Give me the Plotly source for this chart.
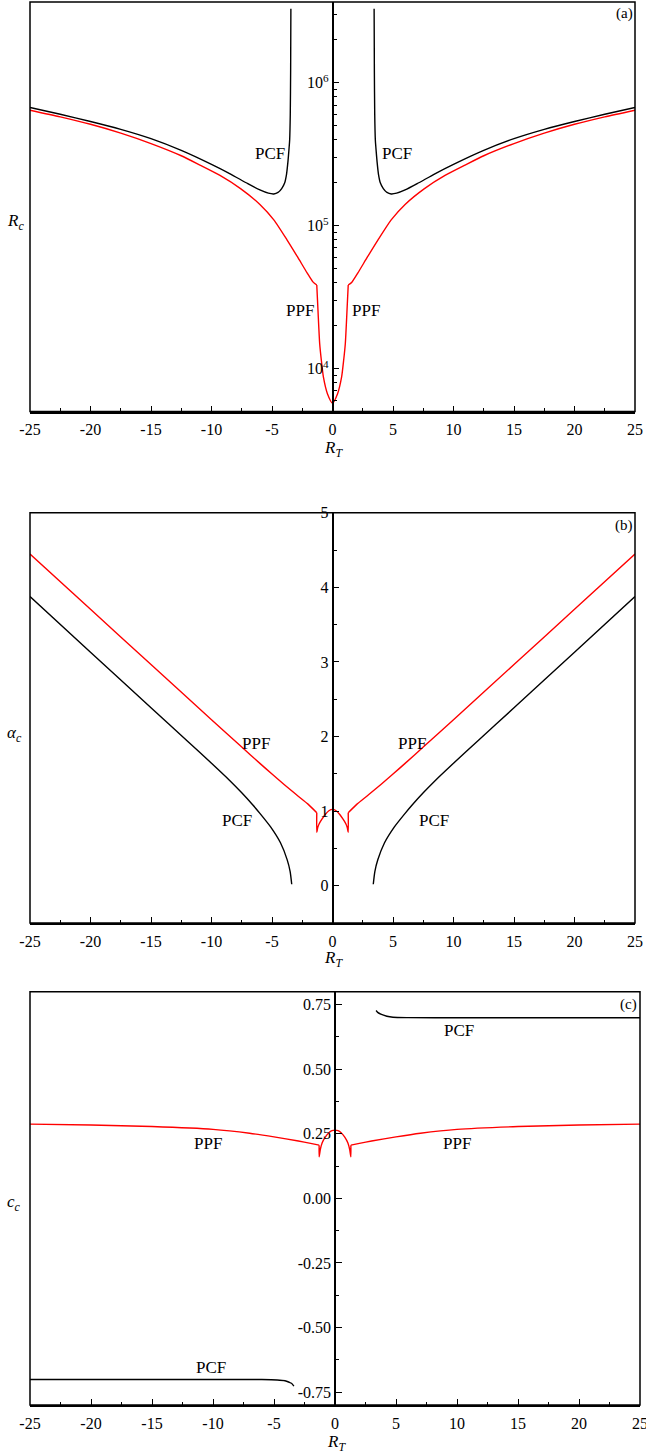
import math
import plotly.graph_objects as go

# ---------------- Panel (a): R_c vs R_T (log y) ----------------
a_ppf_left_rt = [-25, -22.5, -20, -17.5, -15, -12.5, -11, -9.3, -7.6, -6, -4.85, -3.75, -2.9, -2.1, -1.6, -1.3]
a_ppf_left_rc = [6.44e5, 5.78e5, 5.13e5, 4.45e5, 3.76e5, 3.09e5, 2.67e5, 2.25e5, 1.82e5, 1.41e5, 1.10e5, 7.94e4, 6.07e4, 4.68e4, 4.03e4, 3.85e4]
a_ppf_mid_rt = [-1.3, -1.2, -1.06, -0.92, -0.75, -0.42, 0, 0.42, 0.75, 0.92, 1.06, 1.2, 1.3]
a_ppf_mid_rc = [3.85e4, 2.56e4, 1.50e4, 1.14e4, 8710, 6680, 5740, 6680, 8710, 1.14e4, 1.50e4, 2.56e4, 3.85e4]
a_ppf_right_rt = [1.3, 1.6, 2.1, 2.9, 3.75, 4.85, 6, 7.6, 9.3, 11, 12.5, 15, 17.5, 20, 22.5, 25]
a_ppf_right_rc = [3.85e4, 4.03e4, 4.68e4, 6.07e4, 7.94e4, 1.10e5, 1.41e5, 1.82e5, 2.25e5, 2.67e5, 3.09e5, 3.76e5, 4.45e5, 5.13e5, 5.78e5, 6.44e5]

a_pcf_left_rt = [-25, -22.5, -20, -17.5, -15, -12.5, -10, -8.5, -7, -6, -5.3, -4.85, -4.5, -4.2, -3.95, -3.8, -3.68, -3.6, -3.54, -3.49, -3.46, -3.44]
a_pcf_left_rc = [6.73e5, 6.03e5, 5.37e5, 4.73e5, 4.07e5, 3.37e5, 2.69e5, 2.32e5, 1.97e5, 1.78e5, 1.69e5, 1.67e5, 1.71e5, 1.82e5, 2.00e5, 2.29e5, 2.82e5, 3.40e5, 4.00e5, 6.0e5, 1.2e6, 3.3e6]
a_pcf_right_rt = [3.44, 3.46, 3.49, 3.54, 3.6, 3.68, 3.8, 3.95, 4.2, 4.5, 4.85, 5.3, 6, 7, 8.5, 10, 12.5, 15, 17.5, 20, 22.5, 25]
a_pcf_right_rc = [3.3e6, 1.2e6, 6.0e5, 4.00e5, 3.40e5, 2.82e5, 2.29e5, 2.00e5, 1.82e5, 1.71e5, 1.67e5, 1.69e5, 1.78e5, 1.97e5, 2.32e5, 2.69e5, 3.37e5, 4.07e5, 4.73e5, 5.37e5, 6.03e5, 6.73e5]

# ---------------- Panel (b): alpha_c vs R_T ----------------
b_ppf_left_rt = [-25, -20, -15, -10, -7.5, -6, -5, -4, -3, -2, -1.3]
b_ppf_left_al = [4.446, 3.705, 2.965, 2.225, 1.858, 1.64, 1.497, 1.357, 1.222, 1.09, 0.978]
b_ppf_mid_rt = [-1.3, -1.3, -1.22, -1.1, -0.9, -0.6, -0.3, 0, 0.3, 0.6, 0.9, 1.1, 1.22, 1.3, 1.3]
b_ppf_mid_al = [0.978, 0.715, 0.78, 0.83, 0.885, 0.955, 1.005, 1.023, 1.005, 0.955, 0.885, 0.83, 0.78, 0.715, 0.978]
b_ppf_right_rt = [1.3, 2, 3, 4, 5, 6, 7.5, 10, 15, 20, 25]
b_ppf_right_al = [0.978, 1.09, 1.222, 1.357, 1.497, 1.64, 1.858, 2.225, 2.965, 3.705, 4.446]

b_pcf_left_rt = [-25, -20, -15, -12, -10, -8.5, -7.5, -6.6, -6, -5.1, -4.3, -3.75, -3.5, -3.37]
b_pcf_left_al = [3.875, 3.13, 2.385, 1.94, 1.64, 1.41, 1.245, 1.085, 0.97, 0.785, 0.575, 0.35, 0.19, 0.02]
b_pcf_right_rt = [3.37, 3.5, 3.75, 4.3, 5.1, 6, 6.6, 7.5, 8.5, 10, 12, 15, 20, 25]
b_pcf_right_al = [0.02, 0.19, 0.35, 0.575, 0.785, 0.97, 1.085, 1.245, 1.41, 1.64, 1.94, 2.385, 3.13, 3.875]

# ---------------- Panel (c): c_c vs R_T ----------------
c_ppf_left_rt = [-25, -20, -15, -10, -7, -5, -3, -2, -1.3]
c_ppf_left_cc = [0.2875, 0.284, 0.278, 0.267, 0.252, 0.238, 0.222, 0.213, 0.206]
c_ppf_mid_rt = [-1.3, -1.3, -1.2, -1.05, -0.8, -0.5, -0.25, 0, 0.25, 0.5, 0.8, 1.05, 1.2, 1.3, 1.3]
c_ppf_mid_cc = [0.206, 0.161, 0.19, 0.215, 0.237, 0.254, 0.262, 0.264, 0.262, 0.254, 0.237, 0.215, 0.19, 0.161, 0.206]
c_ppf_right_rt = [1.3, 2, 3, 5, 7, 10, 15, 20, 25]
c_ppf_right_cc = [0.206, 0.213, 0.222, 0.238, 0.252, 0.267, 0.278, 0.284, 0.2875]

c_pcf_left_rt = [-25, -10, -6, -4.75, -4.1, -3.75, -3.57, -3.37]
c_pcf_left_cc = [-0.701, -0.701, -0.7015, -0.703, -0.706, -0.712, -0.716, -0.727]
c_pcf_right_rt = [3.37, 3.5, 3.75, 4.25, 4.75, 6, 10, 25]
c_pcf_right_cc = [0.727, 0.72, 0.713, 0.705, 0.701, 0.6995, 0.699, 0.699]

x_ticks = [-25, -20, -15, -10, -5, 0, 5, 10, 15, 20, 25]
x_ticktext = ["-25", "-20", "-15", "-10", "-5", "0", "5", "10", "15", "20", "25"]
a_ticks = [1e4, 1e5, 1e6]
a_ticktext = ["10<sup>4</sup>", "10<sup>5</sup>", "10<sup>6</sup>"]
b_ticks = [0, 1, 2, 3, 4, 5]
b_ticktext = ["0", "1", "2", "3", "4", "5"]
c_ticks = [-0.75, -0.5, -0.25, 0.0, 0.25, 0.5, 0.75]
c_ticktext = ["-0.75", "-0.50", "-0.25", "0.00", "0.25", "0.50", "0.75"]

W, H = 646, 1455
FONT = "Liberation Serif, Times New Roman, serif"
RED = "#ff0000"
BLACK = "#000000"

fig = go.Figure()


def add(xs, ys, color, xa, ya):
    fig.add_trace(go.Scatter(
        x=xs, y=ys, mode="lines", xaxis=xa, yaxis=ya, showlegend=False,
        line=dict(color=color, width=1.4, shape="spline", smoothing=0.6),
        hoverinfo="skip"))


# panel a
add(a_ppf_left_rt, a_ppf_left_rc, RED, "x", "y")
add(a_ppf_mid_rt, a_ppf_mid_rc, RED, "x", "y")
add(a_ppf_right_rt, a_ppf_right_rc, RED, "x", "y")
add(a_pcf_left_rt, a_pcf_left_rc, BLACK, "x", "y")
add(a_pcf_right_rt, a_pcf_right_rc, BLACK, "x", "y")
# panel b
add(b_ppf_left_rt, b_ppf_left_al, RED, "x2", "y2")
add(b_ppf_mid_rt, b_ppf_mid_al, RED, "x2", "y2")
add(b_ppf_right_rt, b_ppf_right_al, RED, "x2", "y2")
add(b_pcf_left_rt, b_pcf_left_al, BLACK, "x2", "y2")
add(b_pcf_right_rt, b_pcf_right_al, BLACK, "x2", "y2")
# panel c
add(c_ppf_left_rt, c_ppf_left_cc, RED, "x3", "y3")
add(c_ppf_mid_rt, c_ppf_mid_cc, RED, "x3", "y3")
add(c_ppf_right_rt, c_ppf_right_cc, RED, "x3", "y3")
add(c_pcf_left_rt, c_pcf_left_cc, BLACK, "x3", "y3")
add(c_pcf_right_rt, c_pcf_right_cc, BLACK, "x3", "y3")


def px(x):
    return min(1.0, max(0.0, x / W))


def py(y):
    return min(1.0, max(0.0, 1 - y / H))


dom_ab = [px(30), px(635)]
dom_c = [px(30), px(640)]
dom_y = {
    "a": [py(411.5), py(2)],
    "b": [py(923), py(512.7)],
    "c": [py(1405), py(991.7)],
}

tickfont = dict(family=FONT, size=16, color="black")


def xaxis(dom, ya):
    return dict(domain=dom, anchor=ya, range=[-25, 25], tickmode="array", tickvals=x_ticks,
                ticktext=x_ticktext, automargin=False, ticklabelstandoff=3, ticklabeloverflow="allow",
                ticks="inside", ticklen=6, tickwidth=1.2, tickcolor="black",
                showline=True, linecolor="black", linewidth=1.5, mirror=False,
                showgrid=False, zeroline=False, tickfont=tickfont,
                minor=dict(dtick=2.5, tick0=0, ticks="inside", ticklen=3.5, tickwidth=1, tickcolor="black"))


def yaxis_common(dom, pos):
    return dict(domain=dom, anchor="free", position=pos, side="left", automargin=False,
                ticklabeloverflow="allow",
                ticks="inside", ticklen=6, tickwidth=1.2, tickcolor="black",
                showline=True, linecolor="black", linewidth=1.5,
                showgrid=False, zeroline=False, tickfont=tickfont)


pos_ab = (dom_ab[0] + dom_ab[1]) / 2
pos_c = (dom_c[0] + dom_c[1]) / 2

a_minor = [m * dec for dec in [1e3, 1e4, 1e5, 1e6] for m in range(2, 10)]

ya = yaxis_common(dom_y["a"], pos_ab)
ya.update(type="log", range=[3.70, 6.566], tickmode="array", tickvals=a_ticks, ticktext=a_ticktext,
          minor=dict(tickmode="array", tickvals=a_minor, ticks="inside", ticklen=3.5, tickwidth=1,
                     tickcolor="black"))

yb = yaxis_common(dom_y["b"], pos_ab)
yb.update(range=[-0.5, 5], tickmode="array", tickvals=b_ticks, ticktext=b_ticktext,
          minor=dict(dtick=0.5, tick0=0, ticks="inside", ticklen=3.5, tickwidth=1, tickcolor="black"))

yc = yaxis_common(dom_y["c"], pos_c)
yc.update(range=[-0.8, 0.8], tickmode="array", tickvals=c_ticks, ticktext=c_ticktext,
          minor=dict(dtick=0.125, tick0=0, ticks="inside", ticklen=3.5, tickwidth=1, tickcolor="black"))

shapes = []
for xr, yr in [("x", "y"), ("x2", "y2"), ("x3", "y3")]:
    shapes.append(dict(type="rect", xref=xr + " domain", yref=yr + " domain", x0=0, x1=1, y0=0, y1=1,
                       line=dict(color="black", width=1.5), fillcolor="rgba(0,0,0,0)", layer="above"))


def ann(text, x, y, xref, yref, size=17):
    return dict(text=text, x=x, y=y, xref=xref, yref=yref, showarrow=False,
                font=dict(family=FONT, size=size, color="black"), xanchor="center", yanchor="middle")


annotations = [
    # panel a
    ann("PCF", -5.2, math.log10(3.2e5), "x", "y"),
    ann("PCF", 5.3, math.log10(3.2e5), "x", "y"),
    ann("PPF", -2.7, math.log10(2.56e4), "x", "y"),
    ann("PPF", 2.8, math.log10(2.56e4), "x", "y"),
    ann("(a)", px(624), py(14), "paper", "paper", 15),
    # panel b
    ann("PPF", -6.3, 1.9, "x2", "y2"),
    ann("PPF", 6.6, 1.9, "x2", "y2"),
    ann("PCF", -7.9, 0.88, "x2", "y2"),
    ann("PCF", 8.35, 0.88, "x2", "y2"),
    ann("(b)", px(624), py(525), "paper", "paper", 15),
    # panel c
    ann("PCF", 10.2, 0.65, "x3", "y3"),
    ann("PPF", 10.0, 0.213, "x3", "y3"),
    ann("PPF", -10.4, 0.213, "x3", "y3"),
    ann("PCF", -10.2, -0.656, "x3", "y3"),
    ann("(c)", px(628), py(1004), "paper", "paper", 15),
    # axis titles
    ann("<i>R</i><sub><i>c</i></sub>", px(15), py(222), "paper", "paper", 17),
    ann("<i>α</i><sub><i>c</i></sub>", px(14), py(734), "paper", "paper", 17),
    ann("<i>c</i><sub><i>c</i></sub>", px(14), py(1203), "paper", "paper", 17),
    ann("<i>R</i><sub><i>T</i></sub>", px(333), py(449), "paper", "paper", 17),
    ann("<i>R</i><sub><i>T</i></sub>", px(333), py(959), "paper", "paper", 17),
    ann("<i>R</i><sub><i>T</i></sub>", px(336), py(1443), "paper", "paper", 17),
]

fig.update_layout(
    width=W, height=H, margin=dict(l=0, r=0, t=0, b=0, autoexpand=False),
    paper_bgcolor="white", plot_bgcolor="white",
    xaxis=xaxis(dom_ab, "y"), xaxis2=xaxis(dom_ab, "y2"), xaxis3=xaxis(dom_c, "y3"),
    yaxis=ya, yaxis2=yb, yaxis3=yc,
    shapes=shapes, annotations=annotations, showlegend=False,
    font=dict(family=FONT, color="black"),
)

fig.write_html("out.html", config={"displayModeBar": False},
               post_script="document.body.style.margin='0';document.body.style.overflow='hidden';")
